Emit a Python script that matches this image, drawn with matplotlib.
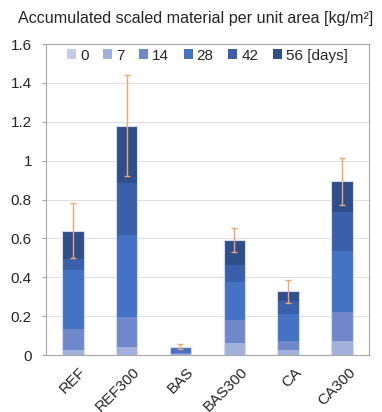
import numpy as np
import matplotlib
matplotlib.use("Agg")
from matplotlib import pyplot as plt
from matplotlib.ticker import MultipleLocator, FormatStrFormatter
from matplotlib.transforms import ScaledTranslation

plt.rcParams['font.family'] = ['Liberation Sans', 'DejaVu Sans']

mixes = ["REF", "REF300", "BAS", "BAS300", "CA", "CA300"]
days = ["0", "7", "14", "28", "42", "56 [days]"]

# scaled material per interval (stacked), kg/m2
d0 = [0.0, 0.0, 0.0, 0.0, 0.0, 0.0]
d7 = [0.026, 0.040, 0.005, 0.063, 0.026, 0.074]
d14 = [0.111, 0.157, 0.008, 0.117, 0.046, 0.149]
d28 = [0.300, 0.420, 0.025, 0.194, 0.139, 0.312]
d42 = [0.057, 0.269, 0.003, 0.089, 0.067, 0.199]
d56 = [0.147, 0.295, 0.002, 0.130, 0.050, 0.161]
err = [0.140, 0.258, 0.012, 0.062, 0.059, 0.121]

cols = ['#c3cdea', '#a2b0dc', '#7088cb', '#4472c4', '#3a5fab', '#2f4e8c']

fig = plt.figure(figsize=(3.82, 4.12), dpi=100)
ax = fig.add_axes([0.120, 0.138, 0.846, 0.755])

x = np.arange(len(mixes))
bottom = np.zeros(len(mixes))
for vals, c, lab in zip([d0, d7, d14, d28, d42, d56], cols, days):
    ax.bar(x, vals, 0.40, bottom=bottom, color=c, label=lab, zorder=2)
    bottom = bottom + np.array(vals)

# light outline round each whole bar
ax.bar(x, bottom, 0.40, fill=False, edgecolor='#d5dcf0', linewidth=0.8, zorder=3)

ax.errorbar(x, bottom, yerr=err, fmt='none', ecolor='#f4a46c', elinewidth=1.0,
            capsize=2.5, capthick=1.0, zorder=4)

ax.set_xlim(-0.5, len(mixes) - 0.5)
ax.set_ylim(0, 1.6)
ax.yaxis.set_major_locator(MultipleLocator(0.2))
ax.yaxis.set_major_formatter(FormatStrFormatter('%g'))
ax.grid(axis='y', color='#e0e0e0', linewidth=0.8, zorder=0)
ax.set_axisbelow(True)

for s in ax.spines.values():
    s.set_color('#a6a6a6')
    s.set_linewidth(0.8)

ax.tick_params(axis='y', length=3, color='#a6a6a6', labelsize=11, labelcolor='#262626', pad=7)
ax.tick_params(axis='x', length=0, labelsize=11, labelcolor='#262626', pad=7)
ax.set_xticks(x)
ax.set_xticklabels(mixes, rotation=45, ha='right', rotation_mode='anchor')
shift = ScaledTranslation(6 / 100, 0, fig.dpi_scale_trans)
for lb in ax.get_xticklabels():
    lb.set_transform(lb.get_transform() + shift)

leg = ax.legend(loc='upper center', bbox_to_anchor=(0.5, 1.015), ncol=6, frameon=False,
                fontsize=11, handlelength=0.6, handleheight=0.6, handletextpad=0.25,
                columnspacing=0.95, borderaxespad=0.2)
for t in leg.get_texts():
    t.set_color('#262626')

fig.text(0.047, 1 - 18 / 412, "Accumulated scaled material per unit area [kg/m²]",
         fontsize=11.6, va='center', ha='left', color='#262626')

fig.savefig("out.png", dpi=100)
